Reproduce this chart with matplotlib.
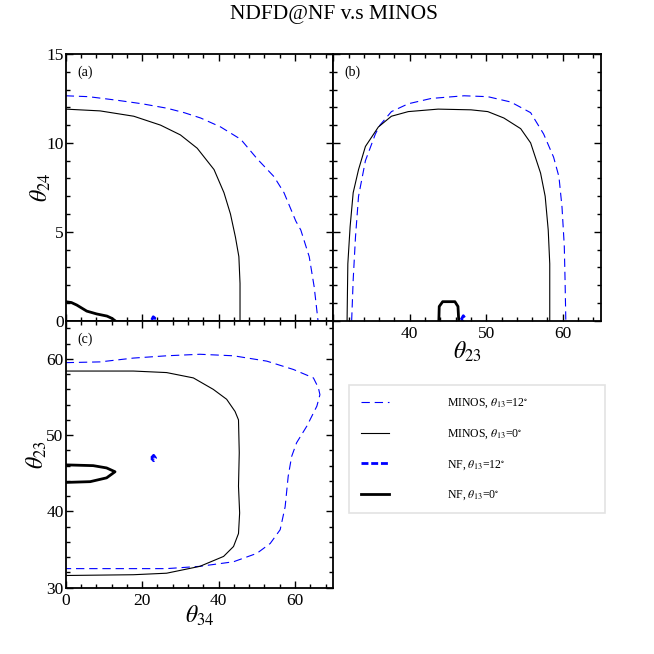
import matplotlib
matplotlib.use('Agg')
import matplotlib.pyplot as plt
from matplotlib.lines import Line2D
from matplotlib.patches import Rectangle
from matplotlib.ticker import MultipleLocator

plt.rcParams['font.family'] = ['Liberation Serif', 'DejaVu Serif']
plt.rcParams['mathtext.fontset'] = 'stix'
plt.rcParams['lines.scale_dashes'] = False

# ---------------- data ----------------
# panel (a): theta24 vs theta34
a_minos12_t34 = [0, 6.0, 13.4, 20.0, 26.5, 31.0, 35.3, 40.5, 45.8, 50.1, 54.5, 57.1, 60.2, 61.5, 63.7, 65.0, 66.0]
a_minos12_t24 = [12.65, 12.6, 12.4, 12.2, 11.95, 11.7, 11.4, 10.9, 10.2, 9.1, 8.1, 7.2, 5.6, 5.1, 3.6, 1.9, 0.0]
a_minos0_t34 = [0, 9.0, 17.8, 24.8, 30.0, 34.4, 38.8, 41.4, 43.1, 44.4, 45.3, 45.6, 45.6]
a_minos0_t24 = [11.9, 11.8, 11.5, 11.0, 10.45, 9.7, 8.5, 7.2, 6.0, 4.7, 3.6, 2.1, 0.0]
a_nf0_t34 = [0, 1.5, 2.9, 5.5, 8.1, 10.8, 12.1, 12.9]
a_nf0_t24 = [1.07, 1.02, 0.88, 0.54, 0.38, 0.26, 0.13, 0.0]
a_nf12_t34 = [22.5, 22.9, 23.3, 23.0, 22.5]
a_nf12_t24 = [0.05, 0.22, 0.15, 0.0, 0.05]

# panel (b): theta24 vs theta23
b_minos0_t23 = [31.8, 31.9, 32.2, 32.6, 33.3, 34.2, 35.9, 37.6, 39.8, 43.7, 48.0, 50.2,
                52.3, 54.5, 55.8, 57.1, 57.7, 58.1, 58.3, 58.3]
b_minos0_t24 = [0.0, 3.2, 5.3, 7.2, 8.5, 9.8, 10.9, 11.5, 11.76, 11.9, 11.86, 11.76,
                11.4, 10.8, 10.0, 8.3, 7.0, 5.1, 3.2, 0.0]
b_minos12_t23 = [32.4, 32.6, 32.9, 33.3, 34.2, 35.5, 36.1, 37.6, 39.8, 42.8, 47.1, 50.2,
                 53.2, 55.8, 57.5, 58.8, 59.5, 59.9, 60.2, 60.3, 60.4]
b_minos12_t24 = [0.0, 2.3, 4.7, 7.0, 9.0, 10.5, 11.0, 11.76, 12.2, 12.5, 12.65, 12.6,
                 12.3, 11.7, 10.5, 9.2, 8.1, 6.4, 4.2, 2.3, 0.0]
b_nf0_t23 = [43.8, 43.85, 44.3, 45.9, 46.3, 46.4]
b_nf0_t24 = [0.0, 0.8, 1.07, 1.07, 0.8, 0.0]
b_nf12_t23 = [46.7, 47.0, 47.2, 46.9, 46.7]
b_nf12_t24 = [0.05, 0.28, 0.15, 0.0, 0.05]

# panel (c): theta23 vs theta34
c_minos12_t34 = [0, 9.0, 17.7, 26.4, 35.1, 43.9, 52.6, 59.6, 64.8, 66.1, 66.5, 65.7, 63.1,
                 60.4, 59.1, 58.2, 57.4, 56.1, 53.5, 50.0, 43.9, 35.1, 26.4, 17.7, 9.0, 0]
c_minos12_t23 = [59.5, 59.6, 60.1, 60.4, 60.6, 60.4, 59.7, 58.6, 57.5, 56.2, 55.3, 53.8, 51.2,
                 49.0, 47.2, 44.6, 40.6, 37.6, 35.8, 34.5, 33.4, 32.8, 32.5, 32.5, 32.5, 32.5]
c_minos0_t34 = [0, 17.7, 26.4, 33.4, 38.6, 42.1, 44.3, 45.2, 45.4, 45.2, 45.5, 45.2, 43.9,
                41.3, 35.1, 26.4, 17.7, 0]
c_minos0_t23 = [58.4, 58.4, 58.2, 57.5, 56.0, 54.7, 53.1, 52.0, 47.7, 43.3, 39.8, 37.1, 35.4,
                34.1, 32.8, 31.9, 31.7, 31.6]
c_nf0_t34 = [0, 7.2, 10.7, 12.9, 10.7, 6.4, 0]
c_nf0_t23 = [46.1, 46.0, 45.7, 45.2, 44.4, 43.9, 43.8]
c_nf12_t34 = [22.4, 23.0, 23.5, 23.0, 22.4]
c_nf12_t23 = [47.0, 47.35, 47.0, 46.65, 47.0]

labels = [r'MINOS, $\theta_{13}$=12$^{\circ}$', r'MINOS, $\theta_{13}$=0$^{\circ}$',
          r'NF, $\theta_{13}$=12$^{\circ}$', r'NF, $\theta_{13}$=0$^{\circ}$']
title = 'NDFD@NF v.s MINOS'

# ---------------- styles ----------------
s_minos12 = dict(color='#0000ff', lw=0.8, dashes=(6, 3.5))
s_minos0 = dict(color='black', lw=0.8)
s_nf12 = dict(color='#0000ff', lw=2.0, dashes=(5, 2))
s_nf0 = dict(color='black', lw=2.0)

W = H = 654
fig = plt.figure(figsize=(6.54, 6.54), dpi=100)


def rect(x0, y0, x1, y1):
    return [x0 / W, 1 - y1 / H, (x1 - x0) / W, (y1 - y0) / H]


axa = fig.add_axes(rect(65.7, 54, 333.3, 320.7))
axb = fig.add_axes(rect(333.3, 54, 601, 320.7))
axc = fig.add_axes(rect(65.7, 320.7, 333.3, 587.7))

axa.plot(a_minos12_t34, a_minos12_t24, **s_minos12)
axa.plot(a_minos0_t34, a_minos0_t24, **s_minos0)
axa.plot(a_nf12_t34, a_nf12_t24, **s_nf12)
axa.plot(a_nf0_t34, a_nf0_t24, **s_nf0)

axb.plot(b_minos12_t23, b_minos12_t24, **s_minos12)
axb.plot(b_minos0_t23, b_minos0_t24, **s_minos0)
axb.plot(b_nf12_t23, b_nf12_t24, **s_nf12)
axb.plot(b_nf0_t23, b_nf0_t24, **s_nf0)

axc.plot(c_minos12_t34, c_minos12_t23, **s_minos12)
axc.plot(c_minos0_t34, c_minos0_t23, **s_minos0)
axc.plot(c_nf12_t34, c_nf12_t23, **s_nf12)
axc.plot(c_nf0_t34, c_nf0_t23, **s_nf0)

for ax in (axa, axb, axc):
    ax.tick_params(which='both', direction='in', top=True, right=True, labelsize=12.5)
    ax.tick_params(which='major', length=5, width=1.0)
    ax.tick_params(which='minor', length=3, width=1.0)
    ax.tick_params(axis='y', pad=1.5)
    ax.tick_params(axis='x', pad=4)
    for sp in ax.spines.values():
        sp.set_linewidth(1.3)

axa.set_xlim(0, 70)
axa.set_ylim(0, 15)
axa.xaxis.set_major_locator(MultipleLocator(20))
axa.xaxis.set_minor_locator(MultipleLocator(4))
axa.yaxis.set_major_locator(MultipleLocator(5))
axa.yaxis.set_minor_locator(MultipleLocator(1))
axa.tick_params(labelbottom=False)
axa.set_ylabel(r'$\theta_{24}$', fontsize=17, labelpad=-5)

axb.set_xlim(30, 65)
axb.set_ylim(0, 15)
axb.set_xticks([30, 40, 50, 60])
axb.set_xticklabels(['', '40', '50', '60'])
axb.xaxis.set_minor_locator(MultipleLocator(2))
axb.yaxis.set_major_locator(MultipleLocator(5))
axb.yaxis.set_minor_locator(MultipleLocator(1))
axb.tick_params(labelleft=False)
axb.set_xlabel(r'$\theta_{23}$', fontsize=17, labelpad=-2)

axc.set_xlim(0, 70)
axc.set_ylim(30, 65)
axc.set_xticks([0, 20, 40, 60])
axc.xaxis.set_minor_locator(MultipleLocator(4))
axc.set_yticks([30, 40, 50, 60])
axc.yaxis.set_minor_locator(MultipleLocator(2))
axc.set_xlabel(r'$\theta_{34}$', fontsize=17, labelpad=-4)
axc.set_ylabel(r'$\theta_{23}$', fontsize=17, labelpad=-2)

for ax, lab in ((axa, '(a)'), (axb, '(b)'), (axc, '(c)')):
    ax.text(0.042, 0.93, lab, transform=ax.transAxes, fontsize=10, va='center', ha='left')

fig.text(334 / W, 1 - 14 / H, title, fontsize=15.5, ha='center', va='center')

# legend
handles = [Line2D([], [], **s_minos12), Line2D([], [], **s_minos0),
           Line2D([], [], **s_nf12), Line2D([], [], **s_nf0)]
fig.legend(handles, labels, loc='upper left', bbox_to_anchor=(349 / W, 1 - 385 / H),
           borderaxespad=0, borderpad=1.0, frameon=False, fontsize=8.5,
           handlelength=2.4, handletextpad=4.9, labelspacing=1.45)
fig.add_artist(Rectangle((349 / W, 1 - 513 / H), 256 / W, 128 / H, transform=fig.transFigure,
                         fill=False, edgecolor='#e3e3e3', lw=1.2))

fig.savefig('out.png', dpi=100)
